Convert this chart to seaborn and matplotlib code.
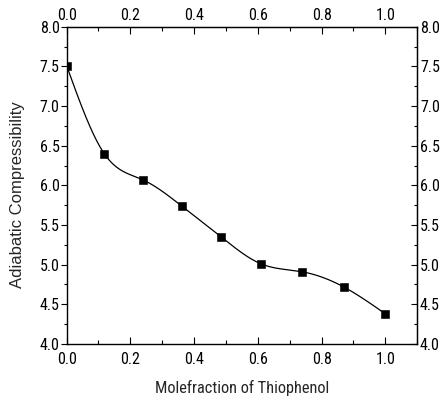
import numpy as np
import matplotlib
matplotlib.use("Agg")
import matplotlib.pyplot as plt
from matplotlib import font_manager
import seaborn as sns
from matplotlib.ticker import MultipleLocator

x_frac = [0.0, 0.118, 0.239, 0.361, 0.485, 0.610, 0.739, 0.869, 1.0]
adiabatic = [7.51, 6.40, 6.07, 5.74, 5.35, 5.01, 4.91, 4.72, 4.38]

x_ticks = [0.0, 0.2, 0.4, 0.6, 0.8, 1.0]
y_ticks = [4.0, 4.5, 5.0, 5.5, 6.0, 6.5, 7.0, 7.5, 8.0]


def natural_spline(xs, ys, n=300):
    xs = np.asarray(xs, float)
    ys = np.asarray(ys, float)
    k = len(xs)
    h = np.diff(xs)
    A = np.zeros((k, k))
    b = np.zeros(k)
    A[0, 0] = A[-1, -1] = 1
    for i in range(1, k - 1):
        A[i, i - 1] = h[i - 1]
        A[i, i] = 2 * (h[i - 1] + h[i])
        A[i, i + 1] = h[i]
        b[i] = 3 * ((ys[i + 1] - ys[i]) / h[i] - (ys[i] - ys[i - 1]) / h[i - 1])
    c = np.linalg.solve(A, b)
    xx = np.linspace(xs[0], xs[-1], n)
    yy = np.empty_like(xx)
    for j, xv in enumerate(xx):
        i = min(np.searchsorted(xs, xv, side="right") - 1, k - 2)
        d = (c[i + 1] - c[i]) / (3 * h[i])
        bb = (ys[i + 1] - ys[i]) / h[i] - h[i] * (2 * c[i] + c[i + 1]) / 3
        t = xv - xs[i]
        yy[j] = ys[i] + bb * t + c[i] * t ** 2 + d * t ** 3
    return xx, yy


sns.set_style("white")
installed = {f.name for f in font_manager.fontManager.ttflist}
narrow = None
for cand in ["Liberation Sans Narrow", "Arial Narrow", "Roboto Condensed",
             "Open Sans Condensed", "DejaVu Sans Condensed"]:
    if cand in installed:
        narrow = cand
        break
base = ["Liberation Sans", "DejaVu Sans"]
tick_family = ([narrow] if narrow else []) + base
plt.rcParams["font.family"] = tick_family

fig = plt.figure(figsize=(4.41, 3.99), dpi=100)
ax = fig.add_axes([0.151, 0.138, 0.795, 0.795])

xs, ys = natural_spline(x_frac, adiabatic)
sns.lineplot(x=xs, y=ys, ax=ax, color="black", linewidth=0.9, sort=False)
sns.scatterplot(x=x_frac, y=adiabatic, ax=ax, marker="s", s=28, color="black",
                edgecolor="black", zorder=5)

ax.set_xlim(0, 1.1)
ax.set_ylim(4.0, 8.0)
ax.set_xticks(x_ticks)
ax.set_yticks(y_ticks)
ax.set_xticklabels([f"{v:.1f}" for v in x_ticks])
ax.set_yticklabels([f"{v:.1f}" for v in y_ticks])
ax.xaxis.set_minor_locator(MultipleLocator(0.1))
ax.yaxis.set_minor_locator(MultipleLocator(0.25))

for sp in ax.spines.values():
    sp.set_color("black")
    sp.set_linewidth(1.0)

fs = 11.5 if narrow else 9.5
ax.tick_params(axis="x", which="both", direction="in", bottom=True, colors="black",
               labelsize=fs, pad=6)
ax.tick_params(axis="x", which="major", length=5, width=0.8)
ax.tick_params(axis="x", which="minor", length=3, width=0.8)
ax.tick_params(axis="y", which="both", direction="out", left=True, colors="black",
               labelsize=fs, pad=1)
ax.tick_params(axis="y", which="major", length=4, width=0.8)
ax.tick_params(axis="y", which="minor", length=2.5, width=0.8)

top = ax.secondary_xaxis("top")
top.set_xticks(x_ticks)
top.set_xticklabels([f"{v:.1f}" for v in x_ticks])
top.xaxis.set_minor_locator(MultipleLocator(0.1))
top.tick_params(which="both", direction="in", colors="black", labelsize=fs, pad=3)
top.tick_params(which="major", length=5, width=0.8)
top.tick_params(which="minor", length=3, width=0.8)

right = ax.secondary_yaxis("right")
right.set_yticks(y_ticks)
right.set_yticklabels([f"{v:.1f}" for v in y_ticks])
right.yaxis.set_minor_locator(MultipleLocator(0.25))
right.tick_params(which="both", direction="in", colors="black", labelsize=fs, pad=2)
right.tick_params(which="major", length=4, width=0.8)
right.tick_params(which="minor", length=2.5, width=0.8)

ax.set_xlabel("Molefraction of Thiophenol", fontsize=11.8 if narrow else 10,
              family=tick_family, va="center")
ax.set_ylabel("Adiabatic Compressibility", fontsize=12, family=base, va="center")
ax.xaxis.set_label_coords(0.5, -0.139)
ax.yaxis.set_label_coords(-0.139, 0.471)

fig.savefig("out.png", dpi=100)
